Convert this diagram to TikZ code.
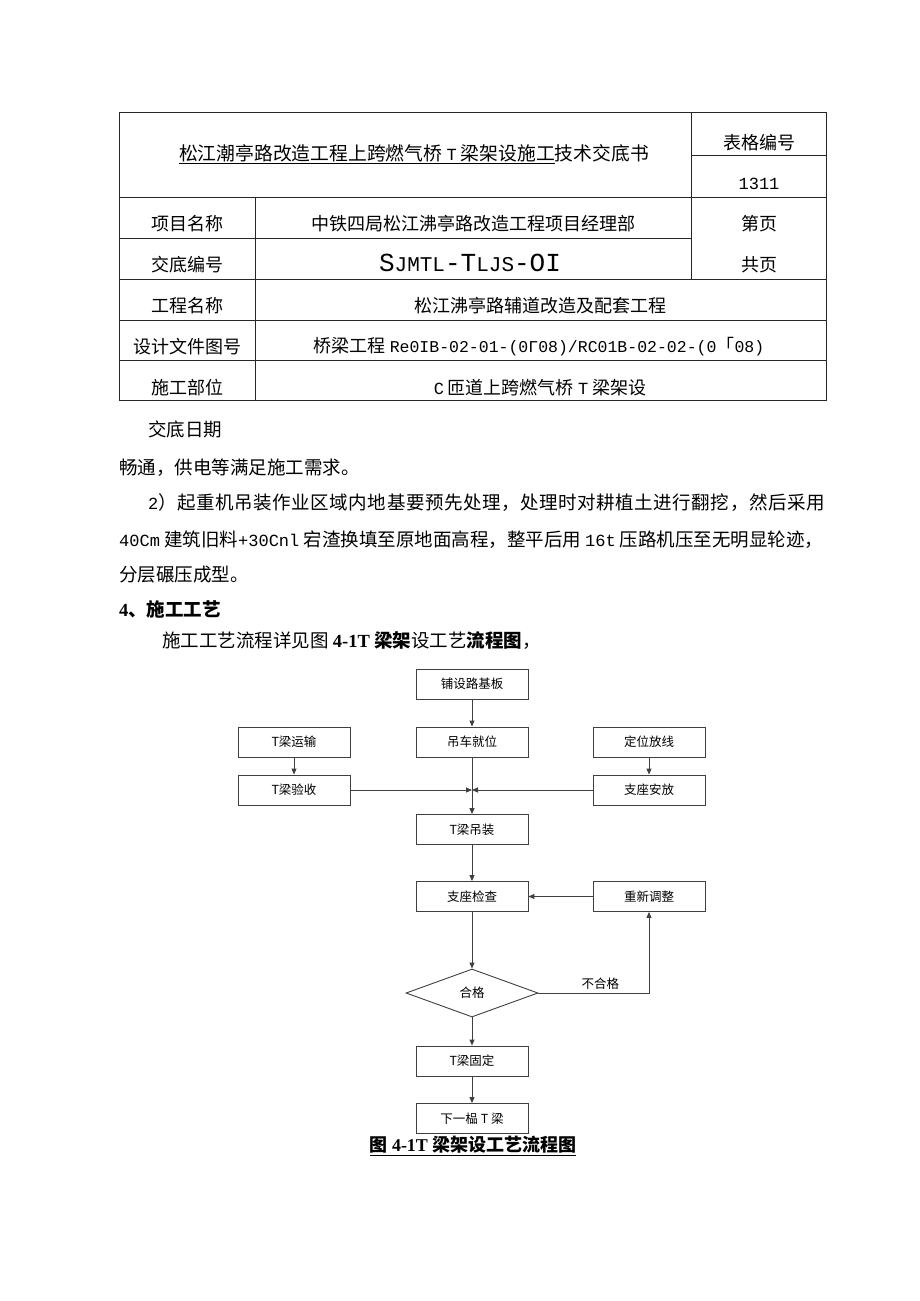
\documentclass[tikz,border=0pt]{standalone}
\usepackage{fontspec}
\setmainfont{Noto Sans CJK SC}
\newfontfamily\latin{Liberation Serif}
\newfontfamily\mono{Liberation Mono}
\newcommand\lm[1]{{\mono\fontsize{17}{17}\selectfont #1}}
\usepackage{tikz}
\usetikzlibrary{arrows.meta,positioning,shapes.geometric}

\begin{document}
\begin{tikzpicture}[x=1pt,y=-1pt,
  rule/.style={line width=1pt,black!85},
  cell/.style={inner sep=0pt,font=\fontsize{18}{18}\selectfont},
  txt/.style={anchor=west,inner sep=0pt,font=\fontsize{18.5}{18.5}\selectfont},
  stepbox/.style={draw=black!75,line width=0.9pt,minimum width=112pt,minimum height=30pt,
    inner sep=0pt,font=\fontsize{12.5}{12.5}\selectfont},
  check/.style={diamond,draw=black!75,line width=0.9pt,minimum width=132pt,minimum height=48pt,
    inner sep=0pt,font=\fontsize{12.5}{12.5}\selectfont},
  flow/.style={draw=black!75,line width=0.9pt,-{Triangle[length=6pt,width=5pt]}}]
  \fill[white] (0,0) rectangle (920,1301);
  \useasboundingbox (0,0) rectangle (920,1301);

  % table
  \draw[rule] (119,112) rectangle (826,400);
  \foreach \y in {197,279,320,360}{
    \draw[rule] (119,\y) -- (826,\y);
  }
  \draw[rule] (119,238) -- (691,238);
  \draw[rule] (691,155) -- (826,155);
  \draw[rule] (691,112) -- (691,279);
  \draw[rule] (255,197) -- (255,400);

  \node[cell,font=\fontsize{18.8}{18.8}\selectfont] (title) at (414,154) {\underline{松江潮亭路改造工程上跨燃气桥 \lm{T} 梁架设施工}技术交底书};
  \node[cell] (bgbh) at (759,143) {表格编号};
  \node[cell] (bgno) at (759,184) {\lm{1311}};
  \node[cell] (xmk) at (187,224) {项目名称};
  \node[cell] (xmv) at (473,224) {中铁四局松江沸亭路改造工程项目经理部};
  \node[cell] (dyk) at (759,224) {第页};
  \node[cell] (jdk) at (187,265) {交底编号};
  \node[cell] (jdv) at (470,263) {\mono\fontsize{26}{26}\selectfont S{\fontsize{21}{21}\selectfont JMTL}-T{\fontsize{21}{21}\selectfont LJS}-OI};
  \node[cell] (gyk) at (759,265) {共页};
  \node[cell] (gck) at (187,306) {工程名称};
  \node[cell] (gcv) at (540,306) {松江沸亭路辅道改造及配套工程};
  \node[cell] (sjk) at (187,347) {设计文件图号};
  \node[cell] (sjv) at (539,347) {桥梁工程 {\mono\fontsize{16.5}{16.5}\selectfont Re0IB-02-01-(0Γ08)/RC01B-02-02-(0}「{\mono\fontsize{16.5}{16.5}\selectfont 08)}};
  \node[cell] (sgk) at (187,388) {施工部位};
  \node[cell] (sgv) at (540,388) {\lm{C} 匝道上跨燃气桥 \lm{T} 梁架设};

  % text
  \node[txt] (date) at (148,429) {交底日期};
  \node[txt] (l1) at (119,468) {畅通，供电等满足施工需求。};
  \node[txt] (l2) at (148,503) {\addfontfeature{LetterSpace=3}\lm{2}）起重机吊装作业区域内地基要预先处理，处理时对耕植土进行翻挖，然后采用};
  \node[txt] (l3) at (119,540) {\lm{40Cm} 建筑旧料\lm{+30Cnl} 宕渣换填至原地面高程，整平后用 \lm{16t} 压路机压至无明显轮迹，};
  \node[txt] (l4) at (119,575) {分层碾压成型。};
  \node[txt] (l5) at (119,609) {\bfseries{\latin 4}、施工工艺};
  \node[txt] (l6) at (162,641) {施工工艺流程详见图 \textbf{{\latin 4-1T} 梁架}设工艺\textbf{流程图}，};

  % flow chart
  \node[stepbox] (plb) at (472,684) {铺设路基板};
  \node[stepbox] (dc) at (472,742) {吊车就位};
  \node[stepbox] (ys) at (294,742) {T梁运输};
  \node[stepbox] (dw) at (649,742) {定位放线};
  \node[stepbox] (yan) at (294,790) {T梁验收};
  \node[stepbox] (az) at (649,790) {支座安放};
  \coordinate (hub) at (472,790);
  \node[stepbox] (dz) at (472,829.5) {T梁吊装};
  \node[stepbox] (jc) at (472,896.5) {支座检查};
  \node[stepbox] (tz) at (649,896.5) {重新调整};
  \node[check] (hg) at (472,993) {合格};
  \node[stepbox] (gd) at (472,1061) {T梁固定};
  \node[stepbox] (xy) at (472,1118.5) {下一榀 T 梁};

  \draw[flow] (plb) -- (dc);
  \draw[flow] (ys) -- (yan);
  \draw[flow] (dw) -- (az);
  \draw[flow] (yan) -- (hub);
  \draw[flow] (az) -- (hub);
  \draw[flow] (dc) -- (dz);
  \draw[flow] (dz) -- (jc);
  \draw[flow] (tz) -- (jc);
  \draw[flow] (jc) -- (hg);
  \draw[flow] (hg.east) -| node[pos=0.28,above,inner sep=3pt,font=\fontsize{12.5}{12.5}\selectfont]{不合格} (tz);
  \draw[flow] (hg) -- (gd);
  \draw[flow] (gd) -- (xy);

  \node[font=\fontsize{18}{18}\selectfont\bfseries] (cap) at (473,1146) {\underline{图 {\latin 4-1T} 梁架设工艺流程图}};
\end{tikzpicture}
\end{document}
